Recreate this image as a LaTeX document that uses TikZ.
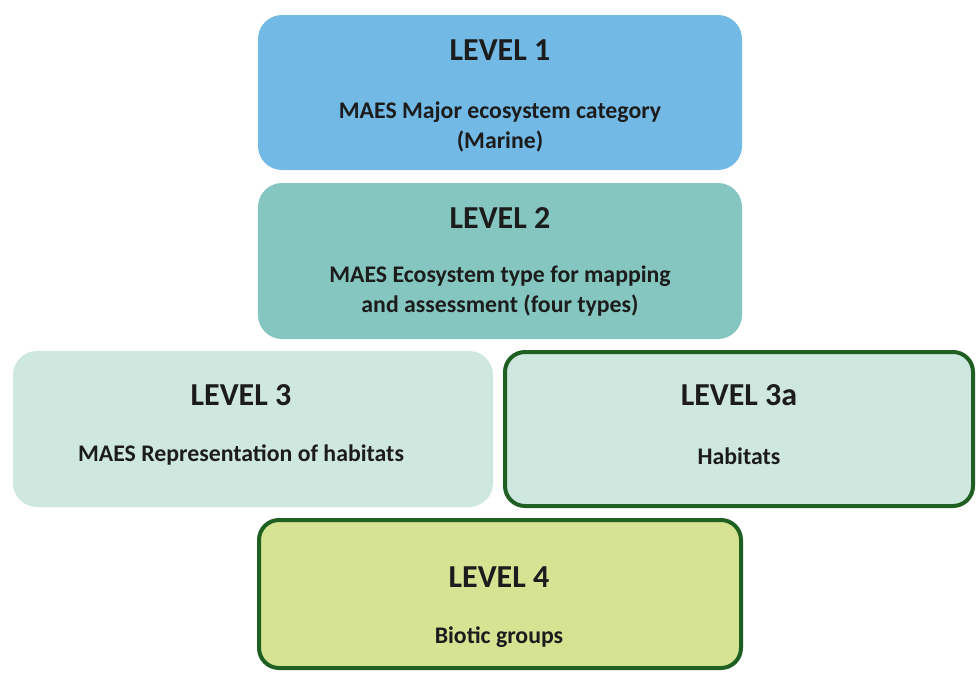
\documentclass[tikz,border=0pt]{standalone}
\usepackage{fontspec}
\setmainfont{Carlito}
\begin{document}
\definecolor{lvlone}{HTML}{72BAE5}
\definecolor{lvltwo}{HTML}{85C7C0}
\definecolor{lvlthree}{HTML}{CEE7DF}
\definecolor{lvlfour}{HTML}{D5E393}
\definecolor{edgegreen}{HTML}{1F5F22}
\definecolor{ink}{HTML}{1C1C1C}
\begin{tikzpicture}[x=1pt,y=-1pt,
  box/.style={rounded corners=24pt, draw=none},
  framed/.style={rounded corners=20pt, draw=edgegreen, line width=4pt},
  title/.style={font=\fontsize{32}{36}\selectfont\bfseries, text=ink, inner sep=0pt, anchor=center},
  body/.style={font=\fontsize{23.8}{29.5}\selectfont\bfseries, text=ink, inner sep=0pt, align=center, anchor=center}]
  \useasboundingbox (0,0) rectangle (977,673);
  \fill[white] (0,0) rectangle (977,673);

  % level 1
  \filldraw[box, fill=lvlone] (258,15) rectangle (742,170);
  \node[title] (t1) at (500,50) {LEVEL 1};
  \node[body] (b1) at (500,127) {MAES Major ecosystem category\\(Marine)};

  % level 2
  \filldraw[box, fill=lvltwo] (258,183) rectangle (742,339);
  \node[title] (t2) at (500,218) {LEVEL 2};
  \node[body] (b2) at (500,291) {MAES Ecosystem type for mapping\\and assessment (four types)};

  % level 3
  \filldraw[box, fill=lvlthree] (13,351) rectangle (493,507);
  \node[title] (t3) at (241,395) {LEVEL 3};
  \node[body] (b3) at (241,455) {MAES Representation of habitats};

  % level 3a
  \filldraw[framed, fill=lvlthree] (505,352) rectangle (973,506);
  \node[title] (t3a) at (739,395) {LEVEL 3a};
  \node[body] (b3a) at (739,456) {Habitats};

  % level 4
  \filldraw[framed, fill=lvlfour] (259,520) rectangle (741,668);
  \node[title] (t4) at (499,577) {LEVEL 4};
  \node[body] (b4) at (499,637) {Biotic groups};
\end{tikzpicture}
\end{document}
